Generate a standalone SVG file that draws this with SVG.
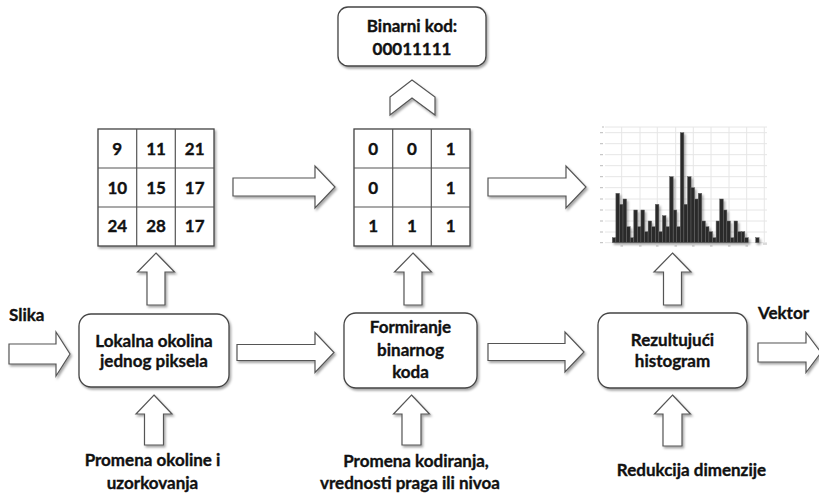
<svg xmlns="http://www.w3.org/2000/svg" width="819" height="498" viewBox="0 0 819 498">
<defs>
<filter id="sh" x="-10%" y="-10%" width="130%" height="130%">
<feDropShadow dx="1.5" dy="2" stdDeviation="1.3" flood-color="#000" flood-opacity="0.35"/>
</filter>
<style>
text{font-family:Lato,"Liberation Sans",sans-serif;font-weight:bold;font-size:17px;fill:#111;stroke:#111;stroke-width:0.35;text-anchor:middle}
.box{fill:#fff;stroke:#444;stroke-width:1.3}
.arr{fill:#fff;stroke:#555;stroke-width:1.2;stroke-linejoin:miter}
.cell{fill:none;stroke:#555;stroke-width:1.2}
.gl{stroke:#e6e6e6;stroke-width:1}
.tk{stroke:#bbb;stroke-width:1}
.bar{fill:#2a2a2a;stroke:#666;stroke-width:0.5}
.l{text-anchor:start}
</style>
</defs>
<rect width="819" height="498" fill="#fff"/>

<g id="binary-code">
<rect class="box" x="338" y="7" width="148" height="59" rx="10" filter="url(#sh)"/>
<text x="412" y="32">Binarni kod:</text>
<text x="412" y="55">00011111</text>
</g>

<g id="grid-values">
<rect x="98" y="129" width="116" height="117" fill="#fff" stroke="#444" stroke-width="1.3" filter="url(#sh)"/>
<path class="cell" d="M136.7 129V246M175.3 129V246M98 168H214M98 207H214"/>
<text x="117.3" y="155">9</text><text x="156" y="155">11</text><text x="194.7" y="155">21</text>
<text x="117.3" y="193.5">10</text><text x="156" y="193.5">15</text><text x="194.7" y="193.5">17</text>
<text x="117.3" y="232">24</text><text x="156" y="232">28</text><text x="194.7" y="232">17</text>
</g>

<g id="grid-binary">
<rect x="354" y="129" width="116" height="117" fill="#fff" stroke="#444" stroke-width="1.3" filter="url(#sh)"/>
<path class="cell" d="M392.7 129V246M431.3 129V246M354 168H470M354 207H470"/>
<text x="373.3" y="155">0</text><text x="412" y="155">0</text><text x="450.7" y="155">1</text>
<text x="373.3" y="193.5">0</text><text x="450.7" y="193.5">1</text>
<text x="373.3" y="232">1</text><text x="412" y="232">1</text><text x="450.7" y="232">1</text>
</g>

<g id="histogram-chart">
<path class="gl" d="M605 127H767M605 132.7H767M605 143.7H767M605 154.7H767M605 165.7H767M605 176.7H767M605 187.7H767M605 199H767M605 210H767M605 221H767M605 232H767M605 242.7H767M621.7 127V243M640 127V243M657.3 127V243M675.7 127V243M693.3 127V243M711 127V243M729 127V243M746.7 127V243M764.3 127V243"/>
<path class="tk" d="M602 127H604M600 132.7H603M600 143.7H603M600 154.7H603M600 165.7H603M600 176.7H603M600 187.7H603M600 199H603M600 210H603M600 221H603M600 232H603M600 242.7H603M620.5 246H623M639 246H641.5M656 246H658.5M674.5 246H677M692 246H694.5M710 246H712.5M728 246H730.5M745.5 246H748M763 244H767"/>
<g filter="url(#sh)">
<rect class="bar" x="612.3" y="237.7" width="3.58" height="5"/>
<rect class="bar" x="615.9" y="193.3" width="3.58" height="49.4"/>
<rect class="bar" x="619.5" y="204.3" width="3.58" height="38.4"/>
<rect class="bar" x="623.0" y="199" width="3.58" height="43.7"/>
<rect class="bar" x="626.6" y="226.7" width="3.58" height="16"/>
<rect class="bar" x="630.2" y="237.7" width="3.58" height="5"/>
<rect class="bar" x="633.8" y="210" width="3.58" height="32.7"/>
<rect class="bar" x="637.4" y="226.7" width="3.58" height="16"/>
<rect class="bar" x="640.9" y="210" width="3.58" height="32.7"/>
<rect class="bar" x="644.5" y="231.7" width="3.58" height="11"/>
<rect class="bar" x="648.1" y="221" width="3.58" height="21.7"/>
<rect class="bar" x="651.7" y="226.7" width="3.58" height="16"/>
<rect class="bar" x="655.3" y="204.3" width="3.58" height="38.4"/>
<rect class="bar" x="658.8" y="231.7" width="3.58" height="11"/>
<rect class="bar" x="662.4" y="215.7" width="3.58" height="27"/>
<rect class="bar" x="666.0" y="226.7" width="3.58" height="16"/>
<rect class="bar" x="669.6" y="176.7" width="3.58" height="66"/>
<rect class="bar" x="673.2" y="210" width="3.58" height="32.7"/>
<rect class="bar" x="676.7" y="226.7" width="3.58" height="16"/>
<rect class="bar" x="680.3" y="132.7" width="3.58" height="110"/>
<rect class="bar" x="683.9" y="204.3" width="3.58" height="38.4"/>
<rect class="bar" x="687.5" y="176.7" width="3.58" height="66"/>
<rect class="bar" x="691.0" y="187.7" width="3.58" height="55"/>
<rect class="bar" x="694.6" y="199" width="3.58" height="43.7"/>
<rect class="bar" x="698.2" y="193.3" width="3.58" height="49.4"/>
<rect class="bar" x="701.8" y="221" width="3.58" height="21.7"/>
<rect class="bar" x="705.4" y="226.7" width="3.58" height="16"/>
<rect class="bar" x="708.9" y="231.7" width="3.58" height="11"/>
<rect class="bar" x="712.5" y="237.7" width="3.58" height="5"/>
<rect class="bar" x="716.1" y="221" width="3.58" height="21.7"/>
<rect class="bar" x="719.7" y="199" width="3.58" height="43.7"/>
<rect class="bar" x="723.3" y="210" width="3.58" height="32.7"/>
<rect class="bar" x="726.8" y="221" width="3.58" height="21.7"/>
<rect class="bar" x="730.4" y="237.7" width="3.58" height="5"/>
<rect class="bar" x="734.0" y="221" width="3.58" height="21.7"/>
<rect class="bar" x="737.6" y="231.7" width="3.58" height="11"/>
<rect class="bar" x="741.2" y="231.7" width="3.58" height="11"/>
<rect class="bar" x="744.7" y="237.7" width="3.58" height="5"/>
<rect class="bar" x="755.7" y="237.7" width="3.4" height="5"/>
</g>
</g>

<g id="node-lokalna">
<rect class="box" x="79" y="314" width="150" height="73" rx="12" filter="url(#sh)"/>
<text x="154" y="347">Lokalna okolina</text>
<text x="154" y="367">jednog piksela</text>
</g>

<g id="node-formiranje">
<rect class="box" x="344" y="313" width="133" height="75" rx="12" filter="url(#sh)"/>
<text x="410.5" y="333">Formiranje</text>
<text x="410.5" y="356">binarnog</text>
<text x="410.5" y="378">koda</text>
</g>

<g id="node-histogram">
<rect class="box" x="598" y="313" width="149" height="75" rx="12" filter="url(#sh)"/>
<text x="672.5" y="346">Rezultujući</text>
<text x="672.5" y="367">histogram</text>
</g>

<g id="labels">
<text class="l" x="9" y="321">Slika</text>
<text class="l" x="758" y="319">Vektor</text>
<text x="152.5" y="466">Promena okoline i</text>
<text x="152.5" y="489">uzorkovanja</text>
<text x="416" y="467">Promena kodiranja,</text>
<text x="410" y="489">vrednosti praga ili nivoa</text>
<text x="691.5" y="476">Redukcija dimenzije</text>
</g>

<g id="connectors" filter="url(#sh)">
<polygon class="arr" points="390,97 412,80 435,97 435,115 412,98 390,115"/>
<polygon class="arr" points="233,178 315,178 315,166 335,187 315,208 315,196 233,196"/>
<polygon class="arr" points="488,178 566,178 566,166 586,187 566,208 566,196 488,196"/>
<polygon class="arr" points="9,344 56,344 56,332 70,354 56,376 56,364 9,364"/>
<polygon class="arr" points="237,344.5 315,344.5 315,332.5 334,352.5 315,372.5 315,360.5 237,360.5"/>
<polygon class="arr" points="488,343.5 565,343.5 565,332 584,352 565,372 565,360.5 488,360.5"/>
<polygon class="arr" points="758,343 806,343 806,332.5 821,352.5 806,372.5 806,362 758,362"/>
<polygon class="arr" points="156,253 174.5,272 165,272 165,305 147,305 147,272 137.5,272"/>
<polygon class="arr" points="413,253 431.5,272 422,272 422,305 404,305 404,272 394.5,272"/>
<polygon class="arr" points="672.5,253 691,272 681.5,272 681.5,305 663.5,305 663.5,272 654,272"/>
<polygon class="arr" points="154,395 172,414 163.5,414 163.5,445 144.5,445 144.5,414 136,414"/>
<polygon class="arr" points="411.5,395 429.5,414 421,414 421,445 402,445 402,414 393.5,414"/>
<polygon class="arr" points="672.5,395 690.5,414 682,414 682,446 663,446 663,414 654.5,414"/>
</g>
</svg>
